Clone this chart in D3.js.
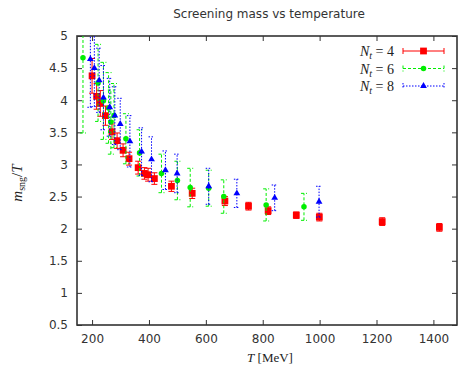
<!DOCTYPE html>
<html>
<head>
<meta charset="utf-8">
<script src="https://cdn.jsdelivr.net/npm/d3@7"></script>
<style>
  body { margin: 0; background: #fff; }
  text { font-family: "DejaVu Sans", "Open Sans", sans-serif; }
  .math { font-family: "Liberation Serif", "DejaVu Serif", serif; }
</style>
</head>
<body>
<svg id="chart" width="459" height="369"></svg>
<script>
// Nt = 4 : temperature [MeV], m/T, error
const t4 = [200, 216, 229, 247, 270, 288, 309, 330, 362, 384, 397, 419, 479, 552, 667, 750, 819, 918, 999, 1220, 1421]
const m4 = [4.38, 4.06, 3.95, 3.76, 3.51, 3.37, 3.22, 3.09, 2.95, 2.86, 2.84, 2.78, 2.66, 2.55, 2.43, 2.35, 2.28, 2.21, 2.18, 2.11, 2.02]
const e4 = [0.27, 0.2, 0.2, 0.15, 0.12, 0.12, 0.1, 0.1, 0.1, 0.09, 0.1, 0.09, 0.08, 0.08, 0.07, 0.06, 0.06, 0.05, 0.06, 0.06, 0.06]

// Nt = 6
const t6 = [168, 221, 240, 258, 266, 277, 319, 367, 444, 500, 545, 610, 663, 812, 945]
const m6 = [4.66, 4.27, 3.99, 3.88, 3.66, 3.76, 3.40, 3.18, 2.86, 2.75, 2.64, 2.63, 2.50, 2.37, 2.34]
const e6 = [1.17, 0.6, 0.6, 0.55, 0.5, 0.5, 0.39, 0.36, 0.3, 0.3, 0.3, 0.28, 0.26, 0.25, 0.21]

// Nt = 8
const t8 = [194, 208, 225, 240, 262, 280, 299, 333, 374, 409, 458, 499, 610, 709, 842, 998]
const m8 = [4.64, 4.5, 4.31, 4.04, 3.89, 3.76, 3.63, 3.36, 3.2, 3.08, 2.91, 2.86, 2.66, 2.55, 2.48, 2.42]
const e8 = [0.75, 0.6, 0.5, 0.5, 0.45, 0.45, 0.4, 0.4, 0.37, 0.35, 0.3, 0.3, 0.28, 0.22, 0.2, 0.24]

const xTicks = [200, 400, 600, 800, 1000, 1200, 1400]
const yTicks = [0.5, 1, 1.5, 2, 2.5, 3, 3.5, 4, 4.5, 5]

const margin = {top: 36, right: 2, bottom: 44, left: 77},
    width = 459 - margin.left - margin.right,
    height = 369 - margin.top - margin.bottom

const x = d3.scaleLinear().domain([147, 1483]).range([0, width])
const y = d3.scaleLinear().domain([0.5, 5]).range([height, 0])

const svg = d3.select("#chart")
const g = svg.append("g")
    .attr("transform", "translate(" + margin.left + "," + margin.top + ")")

g.append("defs").append("clipPath").attr("id", "plotclip")
  .append("rect").attr("x", 0).attr("y", 0).attr("width", width).attr("height", height)

// ticks pointing inwards, mirrored
const tickLen = 5
const axisCol = "#333"
g.append("g").attr("transform", "translate(0," + height + ")")
  .call(d3.axisBottom(x).tickValues(xTicks).tickSize(-tickLen).tickPadding(9).tickFormat(d3.format("d")))
g.append("g")
  .call(d3.axisTop(x).tickValues(xTicks).tickSize(-tickLen).tickFormat(""))
g.append("g")
  .call(d3.axisLeft(y).tickValues(yTicks).tickSize(-tickLen).tickPadding(9).tickFormat(d => d))
g.append("g").attr("transform", "translate(" + width + ",0)")
  .call(d3.axisRight(y).tickValues(yTicks).tickSize(-tickLen).tickFormat(""))

g.selectAll(".domain").remove()
g.selectAll(".tick line").attr("stroke", axisCol).attr("stroke-width", 1)
g.selectAll(".tick text").attr("font-size", 12).attr("fill", "#333")

g.append("rect")
  .attr("x", 0).attr("y", 0).attr("width", width).attr("height", height)
  .attr("fill", "none").attr("stroke", axisCol).attr("stroke-width", 1.6)

// title and labels
svg.append("text").attr("x", 269).attr("y", 18).attr("text-anchor", "middle")
  .attr("font-size", 12).attr("fill", "#333").text("Screening mass vs temperature")

const xl = svg.append("text").attr("class", "math").attr("x", 270).attr("y", 362)
  .attr("text-anchor", "middle").attr("font-size", 13).attr("fill", "#222")
xl.append("tspan").attr("font-style", "italic").text("T")
xl.append("tspan").text(" [MeV]")

const yl = svg.append("text").attr("class", "math")
  .attr("transform", "translate(22,183) rotate(-90)")
  .attr("text-anchor", "middle").attr("font-size", 15).attr("fill", "#222")
yl.append("tspan").attr("font-style", "italic").text("m")
yl.append("tspan").attr("font-size", 10).attr("dy", 3).text("sng")
yl.append("tspan").attr("dy", -3).text("/")
yl.append("tspan").attr("font-style", "italic").text("T")

const series = [
  {t: t4, m: m4, e: e4, color: "#ff0000", dash: null, shape: d3.symbolSquare, size: 46, label: "4"},
  {t: t6, m: m6, e: e6, color: "#00ee00", dash: "3,2", shape: d3.symbolCircle, size: 24, label: "6"},
  {t: t8, m: m8, e: e8, color: "#0000ff", dash: "1.5,1.5", shape: d3.symbolTriangle, size: 20, label: "8"}
]

const cap = 3
const plot = g.append("g").attr("clip-path", "url(#plotclip)")

series.forEach(s => {
  const pts = s.t.map((t, i) => ({t: t, m: s.m[i], e: s.e[i]}))
  const grp = plot.append("g")
  const bars = grp.selectAll("g.bar").data(pts).enter().append("g")
    .attr("stroke", s.color).attr("stroke-width", 1).attr("stroke-dasharray", s.dash)
  bars.append("line")
    .attr("x1", d => x(d.t)).attr("x2", d => x(d.t))
    .attr("y1", d => y(d.m - d.e)).attr("y2", d => y(d.m + d.e))
  bars.append("line")
    .attr("x1", d => x(d.t) - cap).attr("x2", d => x(d.t) + cap)
    .attr("y1", d => y(d.m - d.e)).attr("y2", d => y(d.m - d.e))
  bars.append("line")
    .attr("x1", d => x(d.t) - cap).attr("x2", d => x(d.t) + cap)
    .attr("y1", d => y(d.m + d.e)).attr("y2", d => y(d.m + d.e))
  grp.selectAll("path.pt").data(pts).enter().append("path")
    .attr("d", d3.symbol().type(s.shape).size(s.size))
    .attr("transform", d => "translate(" + x(d.t) + "," + y(d.m) + ")")
    .attr("fill", s.color)
})

// legend
const legend = g.append("g")
series.forEach((s, i) => {
  const ly = 15 + i * 17.5
  const tx = legend.append("text").attr("class", "math")
    .attr("x", 394 - margin.left).attr("y", ly + 5)
    .attr("text-anchor", "end").attr("font-size", 14).attr("fill", "#222")
  tx.append("tspan").attr("font-style", "italic").text("N")
  tx.append("tspan").attr("font-style", "italic").attr("font-size", 10).attr("dy", 3).text("t")
  tx.append("tspan").attr("dy", -3).text(" = " + s.label)
  const x1 = 403 - margin.left, x2 = 444 - margin.left
  const lg = legend.append("g").attr("stroke", s.color).attr("stroke-width", 1).attr("stroke-dasharray", s.dash)
  lg.append("line").attr("x1", x1).attr("x2", x2).attr("y1", ly).attr("y2", ly)
  lg.append("line").attr("x1", x1).attr("x2", x1).attr("y1", ly - cap).attr("y2", ly + cap)
  lg.append("line").attr("x1", x2).attr("x2", x2).attr("y1", ly - cap).attr("y2", ly + cap)
  legend.append("path")
    .attr("d", d3.symbol().type(s.shape).size(s.size))
    .attr("transform", "translate(" + (x1 + x2) / 2 + "," + ly + ")")
    .attr("fill", s.color)
})
</script>
</body>
</html>
